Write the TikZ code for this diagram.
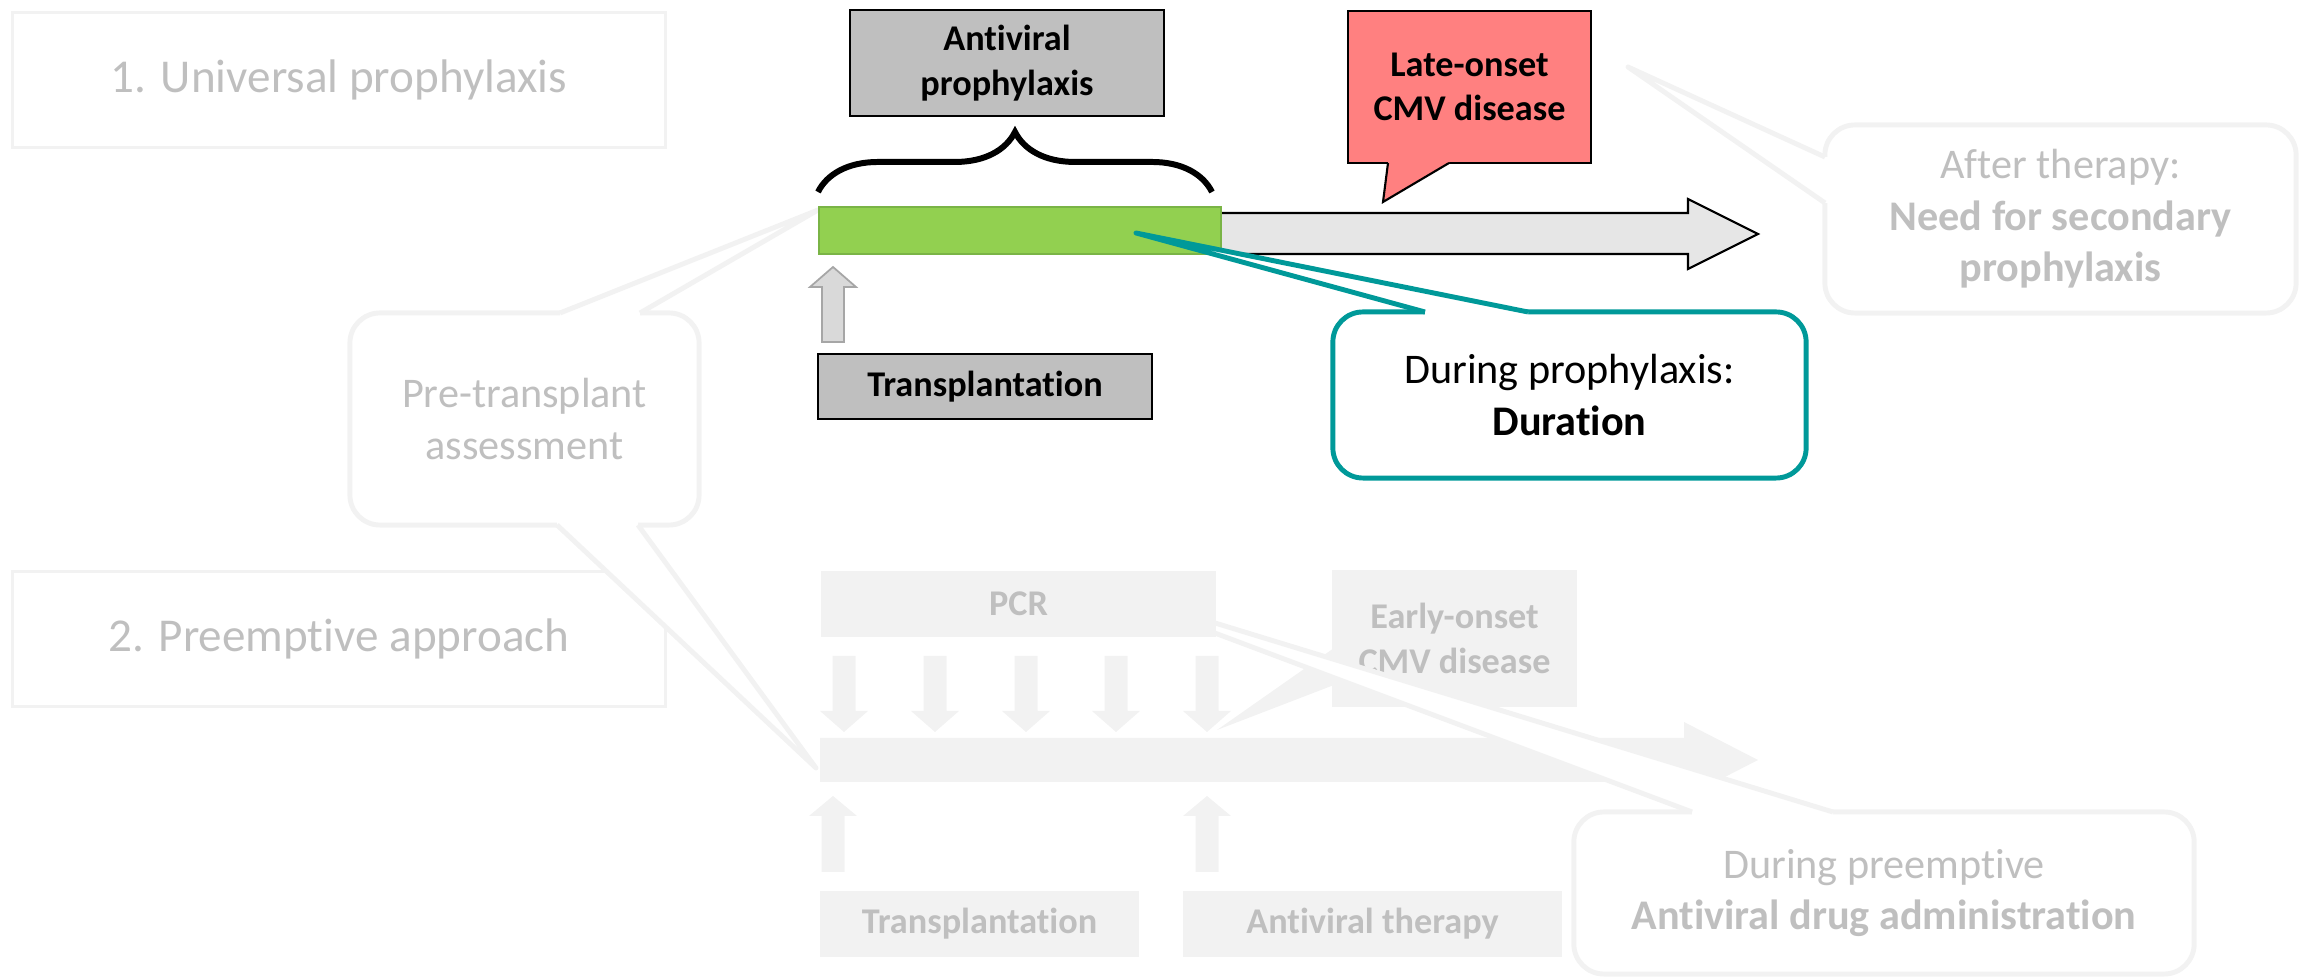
\documentclass[tikz,border=0pt]{standalone}
\usepackage{fontspec}
\setmainfont{Carlito}[RawFeature={-liga;-clig;-calt;-rlig;-dlig;-ccmp}]
\usetikzlibrary{decorations.pathreplacing}
\definecolor{FadeLine}{RGB}{242,242,242}
\definecolor{FadeText}{RGB}{191,191,191}
\definecolor{BoxGray}{RGB}{191,191,191}
\definecolor{BarGreen}{RGB}{146,208,80}
\definecolor{BarGreenDark}{RGB}{122,180,70}
\definecolor{ArrowGray}{RGB}{230,230,230}
\definecolor{TickGray}{RGB}{217,217,217}
\definecolor{TickEdge}{RGB}{166,166,166}
\definecolor{AlertRed}{RGB}{255,128,128}
\definecolor{Teal}{RGB}{0,153,153}

\begin{document}
\begin{tikzpicture}[
    x=0.01cm, y=-0.01cm,
    section/.style={draw=FadeLine, line width=0.9pt, text=FadeText,
        font=\fontsize{13.4}{16}\selectfont, minimum width=6.52cm, minimum height=1.35cm},
    labelbox/.style={draw=black, line width=0.6pt, fill=BoxGray, align=center, inner sep=0pt,
        font=\fontsize{10.3}{12.6}\selectfont\bfseries},
    fadebox/.style={fill=FadeLine, text=FadeText, align=center, inner sep=0pt,
        font=\fontsize{10.3}{12.6}\selectfont\bfseries},
    bubble/.style={draw=FadeLine, line width=1.4pt, fill=white, rounded corners=0.3cm,
        text=FadeText, align=center, inner sep=0pt, font=\fontsize{12}{14.6}\selectfont},
    tail/.style={draw=FadeLine, line width=1.4pt, line join=round},
]
\useasboundingbox (0,0) rectangle (2305,980);

% ---- section boxes ----
\node[section] (univ) at (339,80) {1. Universal prophylaxis};
\node[section] (preempt) at (339,639) {2. Preemptive approach};

% ---- preemptive timeline (faded) ----
\fill[FadeLine] (820,738) -- (1684,738) -- (1684,722) -- (1758,760) -- (1684,798) -- (1684,782) -- (820,782) -- cycle;
\foreach \x in {844,935,1026,1116,1207}
    \fill[FadeLine] (\x-11.5,656) -- (\x+11.5,656) -- (\x+11.5,711) -- (\x+24,711) -- (\x,732)
        -- (\x-24,711) -- (\x-11.5,711) -- cycle;
\foreach \x in {833,1207}
    \fill[FadeLine] (\x-11.5,872) -- (\x-11.5,816) -- (\x-24,816) -- (\x,796) -- (\x+24,816)
        -- (\x+11.5,816) -- (\x+11.5,872) -- cycle;

\node[fadebox, minimum width=2.45cm, minimum height=1.37cm] (early) at (1454.5,638.5) {Early-onset\\CMV disease};
\fill[FadeLine] (1334,648) -- (1217,730) -- (1334,685) -- cycle;

\node[bubble, minimum width=6.2cm, minimum height=1.62cm] (duringpre) at (1884,893)
    {During preemptive\\\textbf{Antiviral drug administration}};
\fill[white] (1692,812) -- (1068,578) -- (1833,812) -- (1833,818) -- (1692,818) -- cycle;
\draw[tail] (1692,812) -- (1068,578) -- (1833,812);

\node[fadebox, minimum width=3.95cm, minimum height=0.66cm] (pcr) at (1018.5,604) {PCR};
\node[fadebox, minimum width=3.19cm, minimum height=0.66cm] (transp2) at (979.5,924) {Transplantation};
\node[fadebox, minimum width=3.79cm, minimum height=0.66cm] (therapy) at (1372.5,924) {Antiviral therapy};

% ---- faded callouts ----
\node[bubble, minimum width=3.49cm, minimum height=2.12cm] (pretx) at (524.5,419) {Pre-transplant\\assessment};
\fill[white] (560,313) -- (818,210) -- (640,313) -- (640,319) -- (560,319) -- cycle;
\draw[tail] (560,313) -- (818,210) -- (640,313);
\fill[white] (557,525) -- (816,768) -- (638,525) -- (638,519) -- (557,519) -- cycle;
\draw[tail] (557,525) -- (816,768) -- (638,525);

\node[bubble, minimum width=4.71cm, minimum height=1.88cm] (after) at (2060.5,219)
    {After therapy:\\\textbf{Need for secondary}\\\textbf{prophylaxis}};
\fill[white] (1825,157) -- (1628,67) -- (1825,203) -- (1831,203) -- (1831,157) -- cycle;
\draw[tail] (1825,157) -- (1628,67) -- (1825,203);

% ---- universal prophylaxis timeline ----
\draw[fill=ArrowGray, line width=0.6pt] (1215,213) -- (1688,213) -- (1688,199) -- (1758,234)
    -- (1688,269) -- (1688,254) -- (1215,254);
\node[draw=BarGreenDark, line width=0.7pt, fill=BarGreen, minimum width=4.02cm, minimum height=0.47cm,
    inner sep=0pt] (bar) at (1020,230.5) {};

\node[bubble, draw=Teal, text=black, minimum width=4.73cm, minimum height=1.66cm] (during) at (1569.5,395)
    {During prophylaxis:\\\textbf{Duration}};
\fill[white] (1425,312) -- (1136,233) -- (1528,312) -- (1528,318) -- (1425,318) -- cycle;
\draw[tail, draw=Teal] (1425,312) -- (1136,233) -- (1528,312);

\draw[line width=1.7pt, decorate, decoration={brace, amplitude=0.6cm}] (818,192) -- (1212,192);
\node[labelbox, minimum width=3.14cm, minimum height=1.06cm] (antiviral) at (1007,63) {Antiviral\\prophylaxis};

\node[labelbox, fill=AlertRed, minimum width=2.43cm, minimum height=1.52cm] (late) at (1469.5,87) {Late-onset\\CMV disease};
\fill[AlertRed] (1388,163) -- (1383,202) -- (1449,163) -- (1449,159) -- (1388,159) -- cycle;
\draw[line width=0.6pt] (1388,163) -- (1383,202) -- (1449,163);

\draw[fill=TickGray, draw=TickEdge, line width=0.5pt] (822,342) -- (822,287) -- (810,287) -- (833,267)
    -- (856,287) -- (844,287) -- (844,342) -- cycle;
\node[labelbox, minimum width=3.34cm, minimum height=0.65cm] (transp) at (985,386.5) {Transplantation};

\end{tikzpicture}
\end{document}
